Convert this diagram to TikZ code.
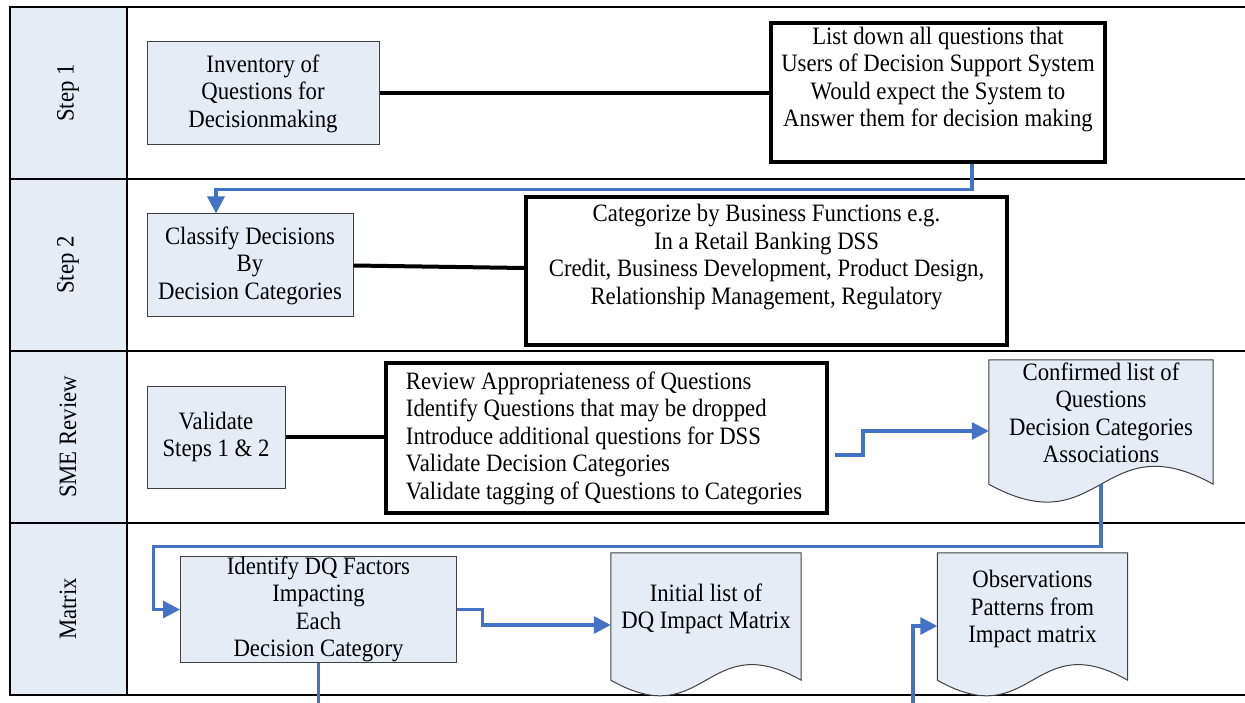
\documentclass[tikz,border=0pt]{standalone}
\usepackage{fontspec}
\setmainfont[FakeStretch=0.91]{Liberation Serif}
\usetikzlibrary{arrows.meta,calc}
\definecolor{boxfill}{RGB}{230,236,246}
\definecolor{flowblue}{RGB}{68,114,196}
\definecolor{boxline}{RGB}{64,64,64}
\begin{document}
\begin{tikzpicture}[x=1pt,y=-1pt,
 every node/.style={font=\fontsize{25}{27.5}\selectfont, inner sep=0pt},
 lane/.style={draw=black, line width=1.2pt},
 lightbox/.style={draw=boxline, fill=boxfill, line width=1pt, align=center},
 heavybox/.style={draw=black, fill=white, line width=4pt},
 docbody/.style={draw=none},
 docshape/.style={draw=boxline, fill=boxfill, line width=1pt},
 txt/.style={align=center},
 lanelabel/.style={rotate=90},
 link/.style={draw=black, line width=4pt},
 flow/.style={draw=flowblue, line width=3.3pt, -{Triangle[length=17pt,width=17pt]}},
 flowline/.style={draw=flowblue, line width=3.3pt}
]
\useasboundingbox (0,0) rectangle (1245,703);
% swimlanes
\fill[boxfill] (10,7) rectangle (127,695);
\draw[lane] (1245,7) -- (10,7) -- (10,695) -- (1245,695);
\draw[lane] (10,179) -- (1245,179);
\draw[lane] (10,351) -- (1245,351);
\draw[lane] (10,523) -- (1245,523);
\draw[lane] (127,7) -- (127,695);
\node[lanelabel] (l1) at (68,93) {Step 1};
\node[lanelabel] (l2) at (68,265) {Step 2};
\node[lanelabel] (l3) at (68,437) {SME Review};
\node[lanelabel] (l4) at (68,609) {Matrix};

% Step 1
\node[lightbox, minimum width=232pt, minimum height=103pt] (inv) at (263,93.5) {Inventory of\\Questions for\\Decisionmaking};
\node[heavybox, minimum width=334pt, minimum height=139pt] (list) at (938,92.5) {};
\node[txt] (listt) at (938,79.5) {List down all questions that\\Users of Decision Support System\\Would expect the System to\\Answer them for decision making};
\draw[link] (inv.east) -- (inv.east -| list.west);

% Step 2
\node[lightbox, minimum width=206pt, minimum height=103pt] (cls) at (250,265.5) {Classify Decisions\\By\\Decision Categories};
\node[heavybox, minimum width=481pt, minimum height=148pt] (cat) at (766.5,271) {};
\node[txt] (catt) at (766.5,257) {Categorize by Business Functions e.g.\\In a Retail Banking DSS\\Credit, Business Development, Product Design,\\Relationship Management, Regulatory};
\draw[link] (cls.east) -- (cat.west |- 0,268);
\draw[flow] ($(list.south)+(34,0)$) -- ++(0,25.5) -| ($(cls.north)+(-34,0)$);

% SME Review
\node[lightbox, minimum width=138pt, minimum height=102pt] (val) at (216,437) {Validate\\Steps 1 \& 2};
\node[heavybox, minimum width=441pt, minimum height=150pt] (rev) at (606.5,438) {};
\node[align=left] (revt) at (604,438) {Review Appropriateness of Questions\\Identify Questions that may be dropped\\Introduce additional questions for DSS\\Validate Decision Categories\\Validate tagging of Questions to Categories};
\draw[link] (val.east) -- (val.east -| rev.west);

\node[docbody, minimum width=224pt, minimum height=124pt] (confb) at (1101,422) {};
\draw[docshape] (confb.north west) -- (confb.north east) -- (confb.south east)
  .. controls ($(confb.south)+(0,-62)$) and ($(confb.south)+(0,62)$) .. (confb.south west) -- cycle;
\node[txt] (conft) at (1101,413) {Confirmed list of\\Questions\\Decision Categories\\Associations};
\draw[flow] ($(rev.east)+(6,17)$) -- ++(28,0) |- (confb.west |- 0,431);

% Matrix
\node[lightbox, minimum width=276pt, minimum height=103pt] (idf) at (318.5,609.5) {Identify DQ Factors\\Impacting\\Each\\Decision Category};

\node[docbody, minimum width=190pt, minimum height=127pt] (initb) at (706,616.5) {};
\draw[docshape] (initb.north west) -- (initb.north east) -- (initb.south east)
  .. controls ($(initb.south)+(0,-54)$) and ($(initb.south)+(0,54)$) .. (initb.south west) -- cycle;
\node[txt] (initt) at (706,609) {Initial list of\\DQ Impact Matrix};

\node[docbody, minimum width=190pt, minimum height=127pt] (obsb) at (1032.5,616.5) {};
\draw[docshape] (obsb.north west) -- (obsb.north east) -- (obsb.south east)
  .. controls ($(obsb.south)+(0,-54)$) and ($(obsb.south)+(0,54)$) .. (obsb.south west) -- cycle;
\node[txt] (obst) at (1032.5,609) {Observations\\Patterns from\\Impact matrix};

\draw[flow] (confb.south) -- ++(0,62) -| ($(idf.west)+(-26.5,0)$) -- (idf.west);
\draw[flow] (idf.east) -- ++(25.5,0) |- (initb.west |- 0,625);
\coordinate (bot1) at (318.5,703);
\coordinate (bot2) at (913,703);
\draw[flowline] (idf.south) -- (bot1);
\draw[flow] (bot2) |- (obsb.west |- 0,626);
\end{tikzpicture}
\end{document}
